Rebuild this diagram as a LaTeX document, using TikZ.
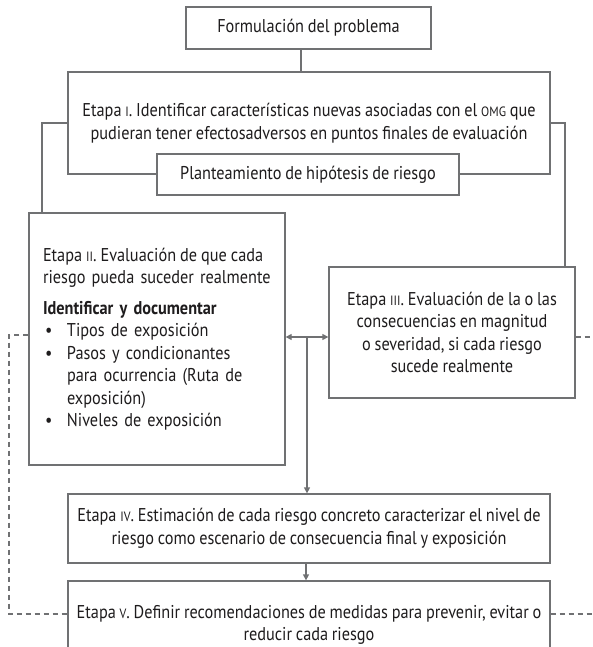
\documentclass[tikz,border=0pt]{standalone}
\usepackage{fontspec}
\setmainfont{PT Sans}[FakeStretch=0.88]
\usetikzlibrary{arrows.meta}
\definecolor{framegray}{RGB}{112,113,115}
\definecolor{textgray}{RGB}{30,28,29}
\frenchspacing
\newcommand{\rom}[1]{{\fontsize{13.5}{13}\selectfont #1}}
\newcommand{\blt}{\hspace*{2pt}\makebox[22pt][l]{\textbullet}}
\newcommand{\ind}{\hspace*{24pt}}
\newcommand{\gap}{\hspace{4pt}}
\newcommand{\tightsp}{\fontdimen2\font=3.8pt\fontdimen3\font=1pt\fontdimen4\font=1pt\relax}
\newcommand{\boxfont}{\fontsize{18.5}{22.5}\selectfont\tightsp}
\newcommand{\hd}[1]{{\bfseries\tightsp #1}}
\tikzset{box/.style={rectangle,draw=framegray,line width=1.3pt,fill=white,align=center,inner sep=4pt,text=textgray,font=\boxfont,execute at begin node={\hyphenpenalty=10000\relax}},line/.style={draw=framegray,line width=1.3pt},arrow/.style={line,-{Triangle[length=6pt,width=6pt]}},dbl/.style={line,{Triangle[length=6pt,width=6pt]}-{Triangle[length=6pt,width=6pt]}},dline/.style={line,dash pattern=on 5pt off 4pt}}

\begin{document}
\begin{tikzpicture}[x=1pt,y=-1pt]
\useasboundingbox (0,0) rectangle (592,647);
\node[box,minimum width=245pt,minimum height=42pt] (f) at (308.5,28) {Formulación del problema};
\node[box,minimum width=482pt,minimum height=102pt] (e1) at (309,123) {Etapa \rom{I}. Identificar características nuevas asociadas con el \rom{OMG} que\\pudieran tener efectosadversos en puntos finales de evaluación};
\node[box,minimum width=302pt,minimum height=41pt] (h) at (308,174.5) {Planteamiento de hipótesis de riesgo};
\node[box,align=left,text width=228pt,inner xsep=14pt,minimum height=252pt] (e2) at (157,339) {\mbox{Etapa\gap\rom{II}.\gap Evaluación\gap de\gap que\gap cada}\\riesgo pueda suceder realmente\\[8pt]
\hd{Identificar y documentar}\\
\blt Tipos de exposición\\
\blt Pasos y condicionantes\\
\ind para ocurrencia (Ruta de\\
\ind exposición)\\
\blt Niveles de exposición};
\node[box,minimum width=246pt,minimum height=131pt] (e3) at (452,332.5) {Etapa \rom{III}. Evaluación de la o las\\consecuencias en magnitud\\o severidad, si cada riesgo\\sucede realmente};
\node[box,minimum width=482pt,minimum height=69pt] (e4) at (309,528.5) {Etapa \rom{IV}. Estimación de cada riesgo concreto caracterizar el nivel de\\riesgo como escenario de consecuencia final y exposición};
\node[box,minimum width=482pt,minimum height=88pt] (e5) at (309,625) {Etapa \rom{V}. Definir recomendaciones de medidas para prevenir, evitar o\\reducir cada riesgo};
\coordinate (mid) at (307,337);
\coordinate (dl) at (9,335);
\coordinate (dlb) at (9,614);
\coordinate (dr) at (592,337);
\coordinate (drb) at (592,614);
\draw[line] ([xshift=-7.5pt]f.south) -- ([xshift=-8pt]e1.north);
\draw[line] (e1.west) -| ([xshift=-115pt]e2.north);
\draw[line] (e1.east) -| ([xshift=113pt]e3.north);
\draw[dbl] (e2.east |- mid) -- (e3.west |- mid);
\draw[arrow] (mid) -- (e4.north -| mid);
\draw[arrow] ([xshift=-3pt]e4.south) -- ([xshift=-3pt]e5.north);
\draw[dline] (e2.west |- dl) -- (dl) -- (dlb) -- (e5.west |- dlb);
\draw[dline] (e3.east |- dr) -- (dr);
\draw[dline] (e5.east |- drb) -- (drb);
\end{tikzpicture}
\end{document}
